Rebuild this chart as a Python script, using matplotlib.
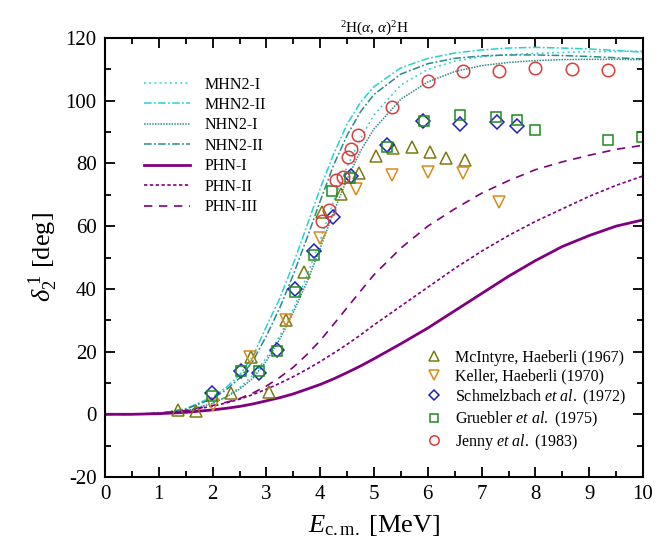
import matplotlib
matplotlib.use("Agg")
import matplotlib.pyplot as plt

plt.rcParams['font.family'] = ['Liberation Serif', 'DejaVu Serif']
plt.rcParams['mathtext.fontset'] = 'custom'
plt.rcParams['mathtext.rm'] = 'Liberation Serif'
plt.rcParams['mathtext.it'] = 'Liberation Serif:italic'
plt.rcParams['mathtext.bf'] = 'Liberation Serif:bold'
plt.rcParams['axes.unicode_minus'] = False

# ---- theory curves ----
E_grid = [0, 0.5, 1, 1.5, 2, 2.25, 2.5, 2.75, 3, 3.25, 3.5, 3.75, 4, 4.25, 4.5,
          4.75, 5, 5.5, 6, 6.5, 7, 7.5, 8, 8.5, 9, 9.5, 10]
mhn2_i = [0, 0, 0.2, 1, 3.5, 5.5, 8.5, 12.5, 18, 25, 33.5, 44, 55.5, 68, 79,
          88, 95.5, 105, 110, 112.6, 114, 114.7, 115.1, 115.4, 115.6, 115.7, 115.8]
mhn2_ii = [0, 0, 0.3, 1.8, 5.5, 8.5, 12.5, 18.5, 28, 37, 48, 60, 72, 83, 92.5,
           99.5, 104.5, 110.5, 113.5, 115.2, 116.2, 116.8, 117, 116.8, 116.5, 116, 115.5]
nhn2_i = [0, 0, 0.2, 1, 3.5, 5.5, 8, 11.5, 17, 24, 32.5, 42, 53, 64.5, 75,
          84, 91, 100.5, 106, 109.3, 111.2, 112.2, 112.8, 113.1, 113.2, 113.2, 113.1]
nhn2_ii = [0, 0, 0.3, 1.6, 5, 7.8, 11.5, 17, 25, 34, 44.5, 56, 68, 79.5, 89,
           96.5, 102, 108.5, 111.8, 113.5, 114.3, 114.6, 114.6, 114.4, 114.1, 113.7, 113.3]
phn_i = [0, 0, 0.2, 0.6, 1.4, 1.9, 2.5, 3.3, 4.3, 5.3, 6.5, 8, 9.5, 11.3, 13.3,
         15.4, 17.7, 22.5, 27.5, 33, 38.5, 44, 49, 53.5, 57, 60, 62]
phn_ii = [0, 0, 0.3, 1, 2.6, 3.6, 4.8, 6.3, 8, 9.9, 12, 14.3, 16.8, 19.5, 22.3,
          25.3, 28.5, 34.5, 40.5, 46.5, 52, 57, 61.5, 65.5, 69.5, 73, 76]
phn_iii = [0, 0, 0.3, 1.2, 2.8, 3.8, 5, 6.8, 9, 11.8, 15, 19, 23.5, 28.7, 34,
           39.3, 44.5, 53, 60, 65.5, 70.5, 74.5, 78, 80.5, 82.6, 84.5, 85.8]

# ---- experimental data ----
mcintyre_E = [1.36, 1.70, 2.35, 2.71, 3.04, 3.36, 3.70, 4.04, 4.38, 4.72, 5.04, 5.36, 5.71, 6.04, 6.33, 6.69]
mcintyre_d = [1.5, 1.2, 6.8, 18.4, 7.1, 30.1, 45.5, 64.6, 70.4, 77.0, 82.3, 84.8, 85.3, 83.7, 81.6, 81.1]
keller_E = [2.01, 2.70, 3.36, 4.00, 4.66, 5.34, 6.01, 6.66, 7.33]
keller_d = [3.0, 18.4, 30.1, 56.1, 71.7, 76.3, 77.3, 76.8, 67.8]
schmel_E = [1.99, 2.52, 2.86, 3.20, 3.54, 3.88, 4.23, 4.57, 5.25, 5.92, 6.60, 7.28, 7.66]
schmel_d = [6.7, 13.9, 13.1, 20.5, 39.9, 52.2, 62.8, 76.1, 85.8, 93.6, 92.5, 93.2, 91.9]
gruebler_E = [1.99, 2.52, 2.86, 3.20, 3.53, 3.88, 4.22, 4.55, 5.25, 5.93, 6.59, 7.27, 7.66, 8.00, 9.35, 9.99]
gruebler_d = [5.7, 13.9, 13.9, 20.3, 39.1, 50.8, 71.3, 75.4, 85.1, 93.6, 95.4, 94.8, 94.0, 90.8, 87.4, 88.3]
jenny_E = [4.03, 4.17, 4.30, 4.43, 4.51, 4.57, 4.70, 5.33, 6.00, 6.66, 7.33, 8.00, 8.68, 9.35]
jenny_d = [61.6, 65.1, 74.7, 75.7, 82.1, 84.6, 89.2, 97.9, 106.2, 109.4, 109.6, 110.3, 110.1, 109.7]

cyan = '#22D3D3'
teal = '#2A8A8A'
purple = '#800080'

fig = plt.figure(figsize=(6.69, 5.50), dpi=100)
ax = fig.add_axes([105/669, 1-477/550, (643-105)/669, (477-38)/550])

l1, = ax.plot(E_grid, mhn2_i, color=cyan, lw=1.1, ls=(0, (1.2, 2.2)), label='MHN2-I')
l2, = ax.plot(E_grid, mhn2_ii, color=cyan, lw=1.1, ls=(0, (5, 1.5, 1.2, 1.5)), label='MHN2-II')
l3, = ax.plot(E_grid, nhn2_i, color=teal, lw=1.1, ls=(0, (1, 0.8)), label='NHN2-I')
l4, = ax.plot(E_grid, nhn2_ii, color=teal, lw=1.1, ls=(0, (5, 1.5, 1.2, 1.5)), label='NHN2-II')
l5, = ax.plot(E_grid, phn_i, color=purple, lw=2.0, ls='-', label='PHN-I')
l6, = ax.plot(E_grid, phn_ii, color=purple, lw=1.2, ls=(0, (2, 1.5)), label='PHN-II')
l7, = ax.plot(E_grid, phn_iii, color=purple, lw=1.2, ls=(0, (5, 4)), label='PHN-III')

ms = 9
mew = 1.1
p1, = ax.plot(mcintyre_E, mcintyre_d, ls='none', marker='^', ms=ms, mfc='none', mec='#7A7A10', mew=mew,
              label='McIntyre, Haeberli (1967)')
p2, = ax.plot(keller_E, keller_d, ls='none', marker='v', ms=ms, mfc='none', mec='#D98A1A', mew=mew,
              label='Keller, Haeberli (1970)')
p3, = ax.plot(schmel_E, schmel_d, ls='none', marker='D', ms=7, mfc='none', mec='#2020C0', mew=mew,
              label=r'Schmelzbach $\mathit{et\ al.}$ (1972)')
p4, = ax.plot(gruebler_E, gruebler_d, ls='none', marker='s', ms=7, mfc='none', mec='#1E8C1E', mew=mew,
              label=r'Gruebler $\mathit{et\ al.}$ (1975)')
p5, = ax.plot(jenny_E, jenny_d, ls='none', marker='o', ms=9, mfc='none', mec='#E03A3A', mew=mew,
              label=r'Jenny $\mathit{et\ al.}$ (1983)')

ax.set_xlim(0, 10)
ax.set_ylim(-20, 120)
ax.set_xticks(range(0, 11))
ax.set_xticks([x + 0.5 for x in range(10)], minor=True)
ax.set_yticks(range(-20, 121, 20))
ax.set_yticks(range(-10, 120, 20), minor=True)
ax.tick_params(which='both', direction='in', top=True, right=True, width=1.3)
ax.tick_params(which='major', length=7, labelsize=15, pad=6)
ax.tick_params(which='minor', length=4)
for s in ax.spines.values():
    s.set_linewidth(1.5)

ax.set_xlabel(r'$E_{\mathrm{c.m.}}$ [MeV]', fontsize=19, labelpad=6)
ax.set_ylabel(r'$\delta_{2}^{\;1}$ [deg]', fontsize=19, labelpad=4)
ax.set_title(r'$^{2}$H($\alpha$, $\alpha$)$^{2}$H', fontsize=11, pad=4)

leg1 = ax.legend(handles=[l1, l2, l3, l4, l5, l6, l7], loc='upper left',
                 bbox_to_anchor=(0.045, 0.945), frameon=False, fontsize=11.5,
                 handlelength=2.9, handletextpad=0.9, labelspacing=0.28)
ax.add_artist(leg1)
leg2 = ax.legend(handles=[p1, p2, p3, p4, p5], loc='lower right',
                 bbox_to_anchor=(0.995, 0.025), frameon=False, fontsize=11.5,
                 handlelength=1.0, handletextpad=0.8, labelspacing=0.18, markerscale=0.75)

fig.savefig('out.png', dpi=100)
